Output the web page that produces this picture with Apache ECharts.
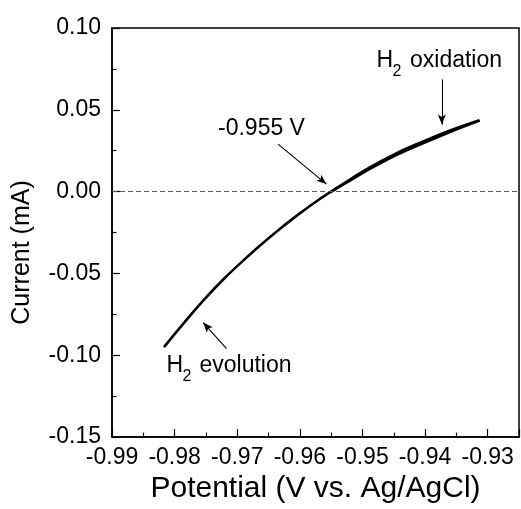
<!DOCTYPE html>
<html>
<head>
<meta charset="utf-8">
<script src="https://cdn.jsdelivr.net/npm/echarts@6/dist/echarts.min.js"></script>
<style>html,body{margin:0;padding:0;background:#fff;}#chart{width:521px;height:509px;}</style>
</head>
<body>
<div id="chart"></div>
<script>
// Forward scan (H2 evolution -> H2 oxidation)
const potentialForward = [-0.9817, -0.9784, -0.9750, -0.9720, -0.9691, -0.9664, -0.9632, -0.9600, -0.9575, -0.9550, -0.9520, -0.9489, -0.9446, -0.9404, -0.9361, -0.9313];
const currentForward   = [-0.0950, -0.0797, -0.0648, -0.0528, -0.0423, -0.0330, -0.0228, -0.0133, -0.0063, 0.0000, 0.0074, 0.0147, 0.0234, 0.0305, 0.0372, 0.0436];
// Reverse scan (overlapping upper part)
const potentialReverse = [-0.9550, -0.9520, -0.9489, -0.9446, -0.9404, -0.9361, -0.9313];
const currentReverse   = [0.0000, 0.0067, 0.0137, 0.0223, 0.0294, 0.0363, 0.0434];

// Axis settings
const xMin = -0.99, xMax = -0.925, xStep = 0.01;
const yMin = -0.15, yMax = 0.10, yStep = 0.05;

// Annotation arrows [x1, y1, x2, y2] in data units (tail -> head)
const arrowZero      = [-0.96348, 0.0290, -0.95576, 0.0046];
const arrowOxidation = [-0.93732, 0.0686, -0.93732, 0.0410];
const arrowEvolution = [-0.97171, -0.0960, -0.97544, -0.0800];

const FONT = "'Liberation Sans', Arial, Helvetica, sans-serif";

function pairs(xs, ys) { return xs.map((x, i) => [x, ys[i]]); }
function arrow(a) { return [{ coord: [a[0], a[1]] }, { coord: [a[2], a[3]] }]; }

const chart = echarts.init(document.getElementById('chart'), null, { renderer: 'canvas' });

chart.setOption({
  animation: false,
  backgroundColor: '#fff',
  grid: { left: 112, right: 2, top: 28, bottom: 71, show: true, borderColor: '#000', borderWidth: 1.5, backgroundColor: 'transparent' },
  xAxis: {
    type: 'value', min: xMin, max: xMax, interval: xStep,
    axisLine: { show: true, onZero: false, lineStyle: { color: '#000', width: 1.5 } },
    axisTick: { show: true, inside: true, length: 8, lineStyle: { color: '#000', width: 1.2 } },
    minorTick: { show: true, splitNumber: 2, length: 4.5, lineStyle: { color: '#000', width: 1.2 } },
    splitLine: { show: false },
    axisLabel: { color: '#000', fontSize: 23, fontFamily: FONT, margin: 9, showMaxLabel: false,
      formatter: v => v.toFixed(2) },
    name: 'Potential (V vs. Ag/AgCl)', nameLocation: 'middle', nameGap: 36,
    nameTextStyle: { color: '#000', fontSize: 30, fontFamily: FONT }
  },
  yAxis: {
    type: 'value', min: yMin, max: yMax, interval: yStep,
    axisLine: { show: true, onZero: false, lineStyle: { color: '#000', width: 1.5 } },
    axisTick: { show: true, inside: true, length: 8, lineStyle: { color: '#000', width: 1.2 } },
    minorTick: { show: true, splitNumber: 2, length: 4.5, lineStyle: { color: '#000', width: 1.2 } },
    splitLine: { show: false },
    axisLabel: { color: '#000', fontSize: 23, fontFamily: FONT, margin: 11,
      formatter: v => (Math.abs(v) < 1e-9 ? 0 : v).toFixed(2) }
  },
  graphic: [
    { type: 'text', x: 22.5, y: 252.5, rotation: Math.PI / 2,
      style: { text: 'Current (mA)', fontSize: 25, fontFamily: FONT, fill: '#000', align: 'center', verticalAlign: 'middle' } },
    { type: 'text', x: 218, y: 128.5,
      style: { text: '-0.955 V', fontSize: 23, fontFamily: FONT, fill: '#000', align: 'left', verticalAlign: 'middle' } },
    { type: 'text', x: 376.5, y: 61,
      style: { text: 'H', fontSize: 23, fontFamily: FONT, fill: '#000', align: 'left', verticalAlign: 'middle' } },
    { type: 'text', x: 392.5, y: 72,
      style: { text: '2', fontSize: 16, fontFamily: FONT, fill: '#000', align: 'left', verticalAlign: 'middle' } },
    { type: 'text', x: 410, y: 61,
      style: { text: 'oxidation', fontSize: 23, fontFamily: FONT, fill: '#000', align: 'left', verticalAlign: 'middle' } },
    { type: 'text', x: 166.5, y: 366,
      style: { text: 'H', fontSize: 23, fontFamily: FONT, fill: '#000', align: 'left', verticalAlign: 'middle' } },
    { type: 'text', x: 182.5, y: 377,
      style: { text: '2', fontSize: 16, fontFamily: FONT, fill: '#000', align: 'left', verticalAlign: 'middle' } },
    { type: 'text', x: 199.5, y: 366,
      style: { text: 'evolution', fontSize: 23, fontFamily: FONT, fill: '#000', align: 'left', verticalAlign: 'middle' } }
  ],
  series: [
    {
      type: 'line', data: pairs(potentialForward, currentForward), smooth: 0.4, showSymbol: false,
      lineStyle: { color: '#000', width: 2.6 }, silent: true, z: 3,
      markLine: {
        silent: true, symbol: ['none', 'none'], label: { show: false },
        lineStyle: { color: '#555', width: 1, type: [5, 3] },
        data: [{ yAxis: 0 }]
      }
    },
    {
      type: 'line', data: pairs(potentialReverse, currentReverse), smooth: 0.4, showSymbol: false,
      lineStyle: { color: '#000', width: 2.6 }, silent: true, z: 3,
      markLine: {
        silent: true, symbol: ['none', 'arrow'], symbolSize: [6, 10], label: { show: false },
        lineStyle: { color: '#000', width: 1.1, type: 'solid' },
        data: [arrow(arrowZero), arrow(arrowOxidation), arrow(arrowEvolution)]
      }
    }
  ]
});
</script>
</body>
</html>
